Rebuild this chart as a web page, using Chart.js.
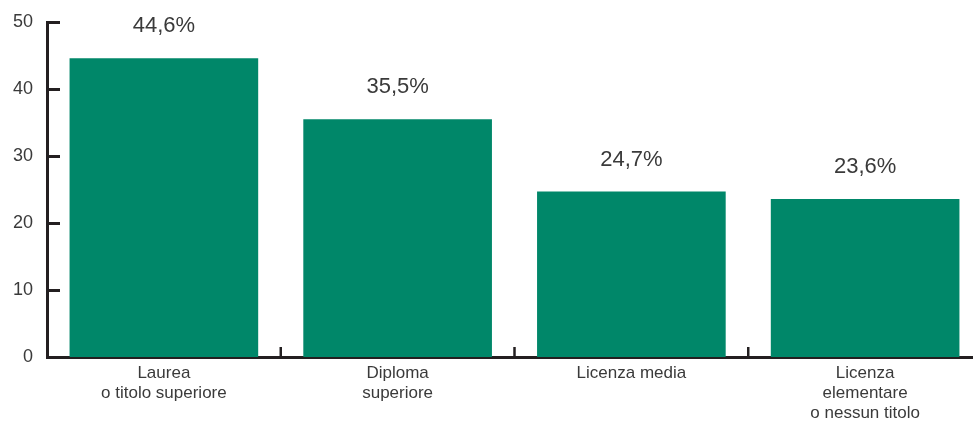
<!DOCTYPE html>
<html>
<head>
<meta charset="utf-8">
<script src="https://cdn.jsdelivr.net/npm/chart.js@4.4.1/dist/chart.umd.min.js"></script>
<style>
  html, body { margin: 0; padding: 0; background: #fff; overflow: hidden; }
  #wrap { width: 982px; height: 423px; position: relative; }
</style>
</head>
<body>
<div id="wrap"><canvas id="chart"></canvas></div>
<script>
// categorie e valori (% )
const categories = [
  ["Laurea", "o titolo superiore"],
  ["Diploma", "superiore"],
  ["Licenza media"],
  ["Licenza", "elementare", "o nessun titolo"],
];
const values = [44.6, 35.5, 24.7, 23.6];
const yTicks = [0, 10, 20, 30, 40, 50];

const AXIS_COLOR = "#231f20";
const TEXT_COLOR = "#3a3a3a";
const BAR_COLOR = "#008769";
const FONT = "'Liberation Sans', Arial, sans-serif";

function fmtPct(v) {
  return v.toFixed(1).replace(".", ",") + "%";
}

/** tacche interne sugli assi + etichette sopra le barre */
const decorPlugin = {
  id: "decor",
  afterDatasetsDraw(chart) {
    const { ctx, chartArea, scales } = chart;
    const x = scales.x;
    const y = scales.y;
    ctx.save();
    ctx.strokeStyle = AXIS_COLOR;

    // tacche asse y (verso destra)
    ctx.lineWidth = 3;
    yTicks.forEach((t) => {
      if (t === 0) return;
      const py = Math.round(y.getPixelForValue(t)) + 0.5;
      ctx.beginPath();
      ctx.moveTo(chartArea.left, py);
      ctx.lineTo(chartArea.left + 13, py);
      ctx.stroke();
    });

    // tacche asse x tra le categorie (verso l'alto)
    ctx.lineWidth = 2.5;
    for (let i = 1; i < categories.length; i++) {
      const px = (x.getPixelForValue(i - 1) + x.getPixelForValue(i)) / 2;
      ctx.beginPath();
      ctx.moveTo(px, chartArea.bottom);
      ctx.lineTo(px, chartArea.bottom - 10);
      ctx.stroke();
    }

    // etichette valori
    ctx.fillStyle = TEXT_COLOR;
    ctx.font = "22px " + FONT;
    ctx.textAlign = "center";
    ctx.textBaseline = "alphabetic";
    const meta = chart.getDatasetMeta(0);
    meta.data.forEach((bar, i) => {
      ctx.fillText(fmtPct(values[i]), bar.x, bar.y - 26);
    });
    ctx.restore();
  },
};

new Chart(document.getElementById("chart"), {
  type: "bar",
  data: {
    labels: categories,
    datasets: [
      {
        data: values,
        backgroundColor: BAR_COLOR,
        borderWidth: 0,
        categoryPercentage: 1,
        barPercentage: 0.807,
      },
    ],
  },
  options: {
    responsive: true,
    maintainAspectRatio: false,
    animation: false,
    layout: { padding: { top: 22, left: 0, right: 0, bottom: 0 } },
    plugins: {
      legend: { display: false },
      tooltip: { enabled: false },
    },
    scales: {
      x: {
        grid: { display: false, drawTicks: false },
        border: { display: true, color: AXIS_COLOR, width: 3 },
        afterFit(scale) {
          scale.height = 66;
        },
        ticks: {
          color: TEXT_COLOR,
          font: { family: FONT, size: 17, lineHeight: 1.18 },
          padding: 6,
          maxRotation: 0,
          autoSkip: false,
        },
      },
      y: {
        min: 0,
        max: 50,
        grid: { display: false, drawTicks: false },
        border: { display: true, color: AXIS_COLOR, width: 3 },
        afterFit(scale) {
          scale.width = 47;
          scale.paddingTop = 0;
          scale.paddingBottom = 0;
        },
        afterBuildTicks(scale) {
          scale.ticks = yTicks.map((v) => ({ value: v }));
        },
        ticks: {
          color: TEXT_COLOR,
          font: { family: FONT, size: 18 },
          padding: 14,
        },
      },
    },
  },
  plugins: [decorPlugin],
});
</script>
</body>
</html>
